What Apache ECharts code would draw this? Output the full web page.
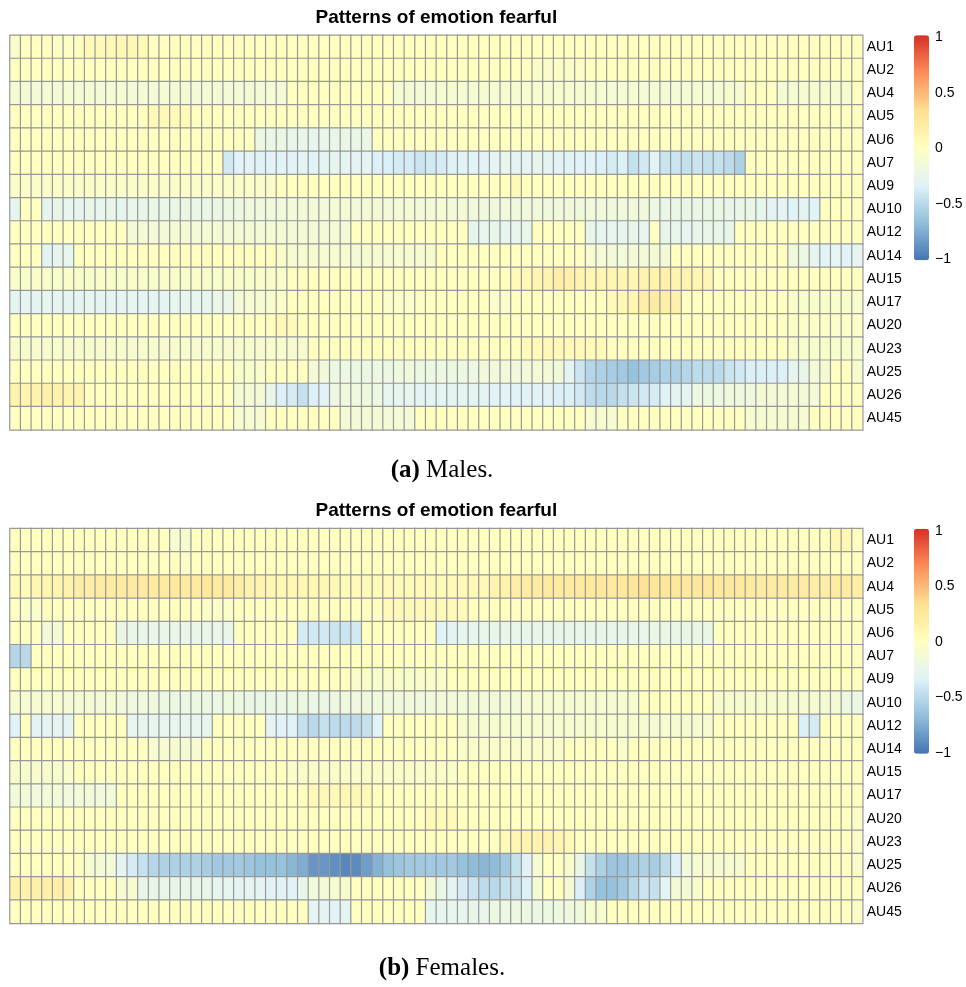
<!DOCTYPE html>
<html>
<head>
<meta charset="utf-8">
<script src="https://cdn.jsdelivr.net/npm/echarts@6/dist/echarts.min.js"></script>
<style>
  html, body { margin: 0; padding: 0; background: #fff; }
  #main { width: 966px; height: 987px; }
</style>
</head>
<body>
<div id="main"></div>
<script>
// action units, top to bottom
const auLabels = ['AU1', 'AU2', 'AU4', 'AU5', 'AU6', 'AU7', 'AU9', 'AU10', 'AU12', 'AU14', 'AU15', 'AU17', 'AU20', 'AU23', 'AU25', 'AU26', 'AU45'];
const legendTicks = [-1, -0.5, 0, 0.5, 1];
const paletteColors = ['#4575B4', '#91BFDB', '#E0F3F8', '#FFFFBF', '#FEE090', '#FC8D59', '#D73027'];

// (a) males, one row per AU, 80 frames each
const malesValues = [
  [-0.06,0,0,0,-0.03,-0.03,0,0.05,0.06,0.06, 0.07,0.07,0.05,0,0,0,0,0,0,0,
   0,0,0,0,0,0,0,0,0,0, 0,0,0,0,0,0,0,0,0,0,
   0,0,0,0,0,0,0,0,0,0, 0,0,0,0,0,0,0,0,0,0,
   0,0,0,0,0,0,0,0,0,0, 0,0,0,0,0,0,0,0,0,0],
  [0,0,0,0,0,0,0,0,0,0, 0,0,0,0,0,0,0,0,0,0,
   0,0,0,0,0,0,0,0,0,0, 0,0,0,0,0,0,0,0,0,0,
   0,0,0,0,0,0,0,0,0,-0.05, -0.05,-0.03,-0.05,-0.03,0,0,0,0,0,0,
   0,0,0,0,0,0,0,0,0,0, 0,0,0,0,0,0,0,0,0,0],
  [-0.11,-0.13,-0.13,-0.11,-0.13,-0.11,-0.13,-0.11,-0.13,-0.13, -0.11,-0.13,-0.13,-0.13,-0.11,-0.13,-0.13,-0.13,-0.13,-0.13,
   -0.13,-0.13,-0.13,-0.13,-0.11,-0.13,0,0,0,0, 0,0,0,0,0,0,-0.11,-0.13,-0.13,-0.11,
   -0.11,-0.09,-0.11,-0.11,-0.09,-0.11,-0.09,-0.09,-0.09,-0.09, -0.09,-0.08,-0.08,-0.09,-0.09,-0.11,-0.11,-0.11,-0.11,-0.11,
   -0.11,-0.13,-0.11,-0.11,-0.11,-0.11,-0.11,-0.09,-0.09,0, 0,0,-0.11,-0.11,-0.09,-0.09,-0.09,-0.09,-0.09,0],
  [0,0,0,0,0,0,0,0,0,0, 0,0,0,0.06,0.06,0.05,0.05,0,0,0,
   0,0,0,0,0,0,0,0,0,0, 0,0,0,0,0,0,0,0,0,0,
   0,0,0,0,0,0,0,0,0,0, 0,0,0,0,0,0,0,0,0,0,
   0,0,0,0,0,0,0,0,0,0, 0,0,0,0,0,0,0,0,0,0],
  [0,0,0,0,0,0,0,0,0,0, 0,0,0,0,0,0,0,0,0,0,
   0,0,0,-0.2,-0.22,-0.22,-0.25,-0.24,-0.27,-0.24, -0.24,-0.22,-0.22,-0.22,0,0,0,0,0,0,
   0,0,0,0,0,0,0,0,0,0, 0,0,0,0,0,0,0,0,0,0,
   0,0,0,0,0,0,0,0,0,0, 0,0,0,0,0,0,0,0,0,0],
  [0,0,0,0,0,0,0,0,0,0, 0,0,0,0,0,0,0,0,0,0,
   -0.4,-0.32,-0.32,-0.34,-0.32,-0.32,-0.32,-0.3,-0.32,-0.3, -0.27,-0.3,-0.3,-0.3,-0.35,-0.35,-0.38,-0.38,-0.42,-0.4,
   -0.38,-0.34,-0.32,-0.32,-0.32,-0.3,-0.27,-0.3,-0.3,-0.27, -0.3,-0.32,-0.32,-0.32,-0.32,-0.35,-0.38,-0.35,-0.45,-0.4,
   -0.32,-0.42,-0.42,-0.45,-0.42,-0.45,-0.45,-0.48,-0.55,0, 0,0,0,0,0,0,0,0,0,0],
  [-0.05,-0.05,-0.05,-0.05,-0.05,-0.05,-0.05,-0.05,-0.05,-0.05, -0.05,-0.05,-0.05,-0.05,-0.05,-0.05,-0.05,-0.05,-0.05,-0.05,
   -0.05,-0.05,-0.05,-0.05,-0.05,0,0,0,0,0, 0,0,0,0,0,0,0,0,0,0,
   0,0,0,0,0,0,0,0.06,0,0, 0,0,0,0,0,0,0,0,0,0,
   0,0,0,0,0,0,0,0,0,0, 0,0,0,0,0,0,0,0,0,0],
  [-0.27,0,0,-0.27,-0.25,-0.27,-0.27,-0.25,-0.27,-0.25, -0.27,-0.25,-0.25,-0.22,-0.22,-0.22,-0.22,-0.22,-0.22,-0.22,
   -0.2,-0.2,-0.17,-0.17,-0.17,-0.17,-0.14,-0.14,-0.14,-0.14, -0.11,-0.13,-0.13,-0.13,-0.13,-0.13,-0.13,-0.11,-0.13,-0.13,
   -0.11,-0.13,-0.13,-0.16,-0.16,-0.16,-0.16,-0.16,-0.16,-0.16, -0.16,-0.16,-0.16,-0.16,-0.16,-0.16,-0.16,-0.16,-0.16,-0.16,
   -0.2,-0.22,-0.22,-0.22,-0.22,-0.22,-0.22,-0.24,-0.24,-0.24, -0.26,-0.3,-0.3,-0.33,-0.3,-0.33,0,0,0,0],
  [0,0,0,0,0,0,0,0,0,0, 0,-0.13,-0.13,-0.13,-0.13,-0.13,-0.13,-0.13,-0.13,-0.13,
   -0.13,-0.13,-0.13,-0.13,-0.13,-0.13,-0.13,-0.13,-0.13,-0.13, -0.13,-0.13,0,0,0,0,0,0,0,0,
   0,0,0,-0.27,-0.27,-0.25,-0.27,-0.27,-0.25,0, 0,0,0,0,-0.25,-0.27,-0.27,-0.27,-0.25,-0.27,
   0,-0.25,-0.25,-0.27,-0.25,-0.25,-0.25,-0.25,0,0, 0,0,0,0,0,0,0,0,0,0],
  [0,0,0,-0.3,-0.27,-0.27,0,0,0,0, 0,0,0,0,0,0,0,0,0,0,
   0,0,0,0,0,-0.06,-0.08,-0.1,-0.1,-0.1, -0.1,-0.1,-0.13,-0.1,-0.1,-0.1,-0.1,-0.1,-0.1,-0.1,
   0,0,0,0,0,0,0,0,0,0, 0,0,0,0,-0.1,-0.13,-0.13,-0.15,-0.13,-0.13,
   -0.13,-0.13,0,0,0,0,0,0,0,0, 0,0,0,-0.16,-0.2,-0.28,-0.32,-0.28,-0.32,-0.28],
  [-0.06,-0.06,-0.06,-0.06,-0.06,-0.06,-0.06,-0.06,-0.06,-0.06, -0.06,-0.06,-0.06,-0.06,-0.06,-0.06,-0.06,-0.06,-0.06,-0.06,
   -0.06,-0.06,-0.06,-0.06,-0.06,-0.06,0,0,0,0, 0,0,0,0,0,0,0,0,0,0,
   0,0,0,0,0,0,0,0.05,0.06,0.1, 0.12,0.18,0.15,0.13,0.1,0.1,0.1,0.1,0.1,0.12,
   0.14,0.15,0.12,0.12,0.1,0.1,0,0,0,0, 0,0,0,0,0,0,0,0,0,0],
  [-0.29,-0.29,-0.29,-0.27,-0.29,-0.29,-0.29,-0.27,-0.29,-0.29, -0.29,-0.27,-0.29,-0.29,-0.29,-0.27,-0.27,-0.27,-0.27,-0.24,
   -0.24,-0.13,-0.1,-0.1,-0.08,-0.06,0,0,0,0, 0,0,0,0,0,-0.04,-0.04,-0.04,-0.03,0,
   0,0,0,0,0,-0.06,-0.06,0,0,0, 0,0,0,0,0,0,0.05,0.08,0.1,0.18,
   0.2,0.16,0.15,0,0,0,0,0,0,0, 0,0,0,-0.06,-0.06,-0.06,-0.06,-0.06,-0.06,-0.06],
  [0,0,0,0,0,0,0,0,0,0, 0,0,0,0,0,0,0,0,0,0,
   0,0,0,0,0,0.06,0.05,0,0,0, 0,0,0,0,0,0,0,0,0,0,
   0,0,0,0,0,0,0,0,0,0, 0,0,0,0,0,0,0,0,0,0,
   0,0,0,0,0,0,0,0,0,0, 0,0,0,-0.04,-0.04,-0.04,-0.04,-0.04,-0.04,-0.04],
  [-0.08,-0.08,-0.08,-0.08,-0.08,-0.08,-0.08,-0.08,-0.08,-0.08, -0.08,-0.08,-0.08,-0.08,-0.08,-0.08,-0.08,-0.08,-0.08,-0.08,
   -0.08,-0.08,-0.08,-0.08,-0.08,-0.08,-0.08,-0.08,0,0, 0,0,0,0,0,0,0,0,0,0,
   0,0,0,0,0,0,0,0,0.05,0.05, 0.06,0.06,0.05,0.05,0.05,0.05,0,0,0,0,
   0,0,0,0,0,0,0,0,0,0, 0,0,0,-0.06,-0.06,-0.06,-0.06,-0.06,-0.06,-0.06],
  [0,0,0,0,0,0,0,0,0,0, 0,0,0,0,0,0,0,0,0,0,
   0,-0.06,-0.06,-0.06,0,0,0,0,-0.13,-0.16, -0.2,-0.2,-0.2,-0.2,-0.2,-0.2,-0.18,-0.18,-0.2,-0.2,
   -0.2,-0.2,-0.2,-0.2,-0.16,-0.16,-0.16,-0.16,-0.16,-0.13, -0.13,-0.16,-0.3,-0.42,-0.52,-0.55,-0.58,-0.6,-0.65,-0.6,
   -0.58,-0.55,-0.55,-0.52,-0.48,-0.48,-0.48,-0.42,-0.4,-0.35, -0.35,-0.35,-0.35,-0.27,-0.25,-0.13,-0.12,0,0,-0.1],
  [0.12,0.12,0.14,0.14,0.14,0.12,0.12,0,0,0, 0,0,0,0,0,0,0,0,0,0,
   0,-0.12,-0.13,-0.13,-0.25,-0.35,-0.38,-0.45,-0.35,-0.32, -0.2,-0.18,-0.18,-0.18,-0.2,-0.27,-0.27,-0.27,-0.3,-0.3,
   -0.3,-0.3,-0.3,-0.3,-0.3,-0.32,-0.32,-0.32,-0.32,-0.32, -0.32,-0.35,-0.35,-0.4,-0.48,-0.5,-0.5,-0.45,-0.42,-0.4,
   -0.38,-0.32,-0.3,-0.3,-0.2,-0.2,-0.2,-0.18,-0.18,-0.18, -0.13,-0.13,-0.13,-0.13,-0.13,-0.13,0,0,0,0],
  [0,0,0,0,0,0,0,0,0,0, 0,0,0,0,0,0,0,0,0,0,
   0,-0.1,-0.1,-0.1,0,0,0,0,0,0, 0,-0.13,-0.13,-0.13,-0.13,-0.13,-0.13,-0.13,0,0,
   0,0,0,0,0,0,0,0,0,0, 0,0,0,0,-0.09,-0.09,-0.09,0,0,0,
   0,0,0,0,0,0,0,0,0,-0.1, -0.1,-0.1,-0.1,-0.1,-0.1,0,0,0,0,0]
];

// (b) females
const femalesValues = [
  [0,0,0,0,0,0,0,0,0,0, 0,0,0,0,0,-0.09,-0.09,0,0,0,
   0,0,0,0,0,0,0,0,0,0, 0,0,0,0,0,0,0,0,0,0,
   0,0,0,0,0,0,0,0,0,0, 0,0,0,0,0,0,0,0,0,0,
   0,0,0,0,0,0,0,0,0,0, 0,0,0,0,0,0,0,0.07,0.07,0],
  [0,0,0,0,0,0,0,0,0,0, 0,0,0,0,0,0,-0.05,0,0,0,
   0,0,0,0,0,0,0,0,0,0, 0,0,0,0,0,0,0,0,0,0,
   0,0,0,0,0,0,0,0,0,0, 0,0,0,0,0,0,0,0,0,0,
   0,0,0,0,0,0,0,0,0,0, 0,0,0,0,0,0,0,0,0,0],
  [0.05,0.05,0.1,0.1,0.12,0.14,0.18,0.18,0.2,0.2, 0.2,0.22,0.22,0.22,0.22,0.24,0.22,0.24,0.24,0.22,
   0.22,0.18,0.12,0.12,0.1,0.08,0.08,0.08,0.08,0.08, 0.06,0.05,0.05,0.05,0.05,0.05,0.05,0.05,0.05,0.05,
   0.05,0.05,0.05,0.06,0.06,0.12,0.14,0.18,0.2,0.2, 0.22,0.22,0.22,0.22,0.24,0.24,0.24,0.24,0.26,0.3,
   0.26,0.26,0.25,0.25,0.25,0.25,0.24,0.24,0.24,0.22, 0.2,0.2,0.2,0.2,0.2,0.18,0.18,0.2,0.2,0.18],
  [0,-0.04,-0.04,0,0,0,0,0,0,0, 0,0,0,0,0,0,0,0,-0.04,-0.04,
   -0.04,0,0,0,0,0,0,0,0,0, 0,0,0,0,0,0.05,0.06,0.06,0.06,0.06,
   0.06,0.05,0.04,0,0,0,0,0,0,0, 0,0,0,0,0,0,0,0,0,0,
   0,0,0,0,0,0,0,0,0,0, 0,0,0,0,0,0,0,0,0,0],
  [0,0,0,-0.13,-0.13,0,0,0,0,0, -0.22,-0.24,-0.24,-0.24,-0.24,-0.24,-0.24,-0.24,-0.24,-0.24,
   -0.24,0,0,0,0,0,0,-0.38,-0.4,-0.4, -0.42,-0.42,-0.4,0,0,0,0,0,0,0,
   -0.33,-0.3,-0.27,-0.27,-0.25,-0.25,-0.25,-0.25,-0.25,-0.25, -0.25,-0.25,-0.25,-0.25,-0.25,-0.25,-0.25,-0.25,-0.25,-0.25,
   -0.22,-0.22,-0.22,-0.22,-0.22,-0.22,0,0,0,0, 0,0,0,0,0,0,0,0,0,0],
  [-0.52,-0.5,0,0,0,0,0,0,0,0, 0,0,0,0,0,0,0,0,0,0,
   0,0,0,0,0,0,0,0,0,0, 0,0,0,0,0,0,0,0,0,0,
   0,0,0,0,0,0,0,0,0,0, 0,0,0,0,0,0,0,0,0,0,
   0,0,0,0,0,0,0,0,0,0, 0,0,0,0,0,0,0,0,0,0],
  [0,0,0,0,0,0,0,0,0,0, 0,0,0,0,0,0,0,0,0,0,
   0,0,0,0,0,0,0,0,0,0, 0,0,-0.06,-0.06,-0.06,-0.06,-0.06,-0.06,-0.06,-0.06,
   -0.06,0,0,0,0,0,0,0,0,0, 0,0,0,0,0,0,0,0,0,0,
   0,0,0,0,0,0,0,0,0,0, 0,0,0,0,0,0,0,0,0,0],
  [-0.1,-0.1,-0.1,-0.1,-0.1,-0.12,-0.12,-0.12,-0.12,-0.12, -0.16,-0.18,-0.18,-0.18,-0.2,-0.2,-0.2,-0.2,-0.2,-0.2,
   -0.18,-0.2,-0.22,-0.22,-0.22,-0.22,-0.2,-0.2,-0.22,-0.22, -0.2,-0.18,-0.18,-0.18,-0.18,-0.16,-0.16,-0.16,-0.16,-0.16,
   -0.16,-0.14,-0.14,-0.14,-0.14,-0.14,-0.14,-0.14,-0.1,-0.1, -0.1,-0.1,-0.1,-0.1,-0.1,-0.1,-0.1,-0.1,-0.1,0,
   0,0,0,0,0,0,-0.08,-0.08,-0.08,-0.08, -0.08,-0.08,-0.08,-0.1,-0.1,-0.1,-0.12,-0.12,-0.2,-0.2],
  [-0.33,0,-0.3,-0.3,-0.3,-0.3,0,0,0,0, 0,-0.27,-0.27,-0.27,-0.27,-0.27,-0.27,-0.27,-0.27,0,
   0,0,0,0,-0.3,-0.33,-0.33,-0.45,-0.5,-0.45, -0.48,-0.48,-0.48,-0.45,-0.33,0,0,0,0,0,
   0,0,-0.09,-0.09,-0.09,-0.09,-0.09,-0.09,-0.09,-0.09, -0.09,-0.09,-0.09,-0.09,-0.09,-0.09,-0.09,-0.09,-0.09,-0.09,
   -0.1,-0.1,-0.1,-0.1,-0.1,-0.1,0,0,0,0, 0,0,0,0,-0.35,-0.38,0,0,0,0],
  [0,0,0,0,0,0,0,0,0,0, 0,0,0,-0.1,-0.1,-0.1,-0.12,-0.1,0,0,
   0,0,0,0,0,0,0,0,0,0, 0,0,0,0,0,0,0,0,0,0,
   0,0,-0.05,-0.05,-0.05,-0.05,-0.05,-0.06,-0.06,-0.05, -0.05,-0.05,0,0,0,0,0,-0.06,0,0,
   0,0,0,0,0,0,0,0,0,0, 0,0,0,0,0,0,0,0,0,0],
  [-0.08,-0.08,-0.08,-0.08,-0.08,-0.06,0,0,0,0, 0,0,0,0,0,0,0,0,0,0,
   0,0,0,0,0,0,-0.05,-0.05,-0.05,-0.05, -0.05,-0.05,-0.05,-0.05,-0.05,-0.05,-0.05,-0.05,-0.05,-0.05,
   -0.05,-0.05,0,0,0,0,0,0,0,0, 0,0,0,0,0,0,0,0,0,0,
   0,0,0,0,0,0,0,0,0,0, 0,0,0,0,0,0,0,0,0,0],
  [-0.15,-0.15,-0.15,-0.15,-0.15,-0.15,-0.15,-0.15,-0.15,-0.15, 0,0,0,0,0,0,0,0,0,0,
   0,0,0,0,0,0,0,0,0.06,0.06, 0.06,0.07,0.07,0.06,0,0,0,0,0,0,
   0,0,0,0,0,0,0,0,0,0, 0,0,0,0,0,0,0,0,0,0,
   0,0,0,0,0,0,0,0,0,0, 0,0,0,0,0,0,0,0,0,0],
  [0,0,0,0,0,0,0,0,0,0, 0,0,0,0,0,0,0,0,0,0,
   0,0,0,0,0,0,0,0,0,0, 0,0,0,0,0,0,0,0,0,0.05,
   0.05,0.05,0,0,0,0,0,0,0,0, 0,0,0,0,0,0,0,0,0,0,
   0,0,0,0,0,0,0,0,0,0, 0,0,0,0,0,0,0,0,0,-0.05],
  [0,0,0,0,0,0,0,0,0,0, 0,0,0,0,0,0,0,0,0,0,
   0,0,0,0,0,0,0,0,0,0, 0,0,0,0,0,0,0,0,0,0,
   0,0,0,0,0,0,0.05,0.1,0.12,0.12, 0.12,0.1,0.05,0,0,0,0,0,0,0,
   0,0,0,0,0,0,0,0,0,0, 0,0,0,0,0,0,0,0,0,-0.05],
  [0,0,0,0,0,0,0,-0.1,-0.12,-0.15, -0.3,-0.38,-0.45,-0.52,-0.55,-0.55,-0.55,-0.55,-0.58,-0.6,
   -0.6,-0.6,-0.62,-0.65,-0.65,-0.65,-0.7,-0.75,-0.85,-0.85, -0.88,-0.92,-0.9,-0.82,-0.72,-0.65,-0.62,-0.6,-0.6,-0.6,
   -0.6,-0.6,-0.65,-0.68,-0.7,-0.68,-0.6,-0.45,-0.32,-0.1, 0,0,-0.08,-0.22,-0.45,-0.55,-0.62,-0.62,-0.58,-0.55,
   -0.58,-0.48,-0.35,-0.15,-0.1,-0.1,-0.1,-0.1,-0.1,0, 0,0,0,0,0,0,0,0,0,-0.06],
  [0.14,0.14,0.16,0.16,0.16,0.14,0,0,0,0, -0.1,-0.1,-0.25,-0.25,-0.25,-0.25,-0.25,-0.25,-0.25,-0.27,
   -0.27,-0.3,-0.3,-0.3,-0.32,-0.32,-0.32,-0.25,-0.15,-0.12, -0.1,-0.08,0,0,0,0,0,0,0,-0.12,
   -0.22,-0.3,-0.38,-0.42,-0.48,-0.5,-0.45,-0.42,-0.35,-0.12, 0,0,-0.12,-0.35,-0.55,-0.65,-0.65,-0.6,-0.5,-0.42,
   -0.45,-0.3,-0.12,-0.12,-0.08,0,0,0,0,0, 0,0,0,0,0,0,0,0,0,0],
  [0,0,0,0,0,0,0,0,0,0, 0,0,0,0,0,0,0,0,0,0,
   0,0,0,0,0,0,0,0,-0.3,-0.3, -0.32,-0.3,0,0,0,0,0,0,0,-0.27,
   -0.27,-0.27,-0.27,-0.25,-0.25,-0.2,-0.2,-0.2,-0.2,-0.2, -0.2,-0.18,-0.18,-0.16,-0.1,-0.1,0,0,0,0,
   0,0,0,0,0,0,0,0,0,0, 0,0,0,0,0,0,0,0,0,-0.05]
];

const frames = malesValues[0].map((v, i) => String(i + 1));

function toCells(rows) {
  const out = [];
  rows.forEach((row, r) => {
    row.forEach((v, c) => out.push([c, r, v]));
  });
  return out;
}

const panels = [
  {values: malesValues, top: 35.3, caption: '{b|(a)} Males.', captionTop: 458},
  {values: femalesValues, top: 528.7, caption: '{b|(b)} Females.', captionTop: 956}
];
const heatLeft = 10, heatWidth = 852.7, heatHeight = 394.6;
const barLeft = 914, barWidth = 15, barHeight = 225;

const chart = echarts.init(document.getElementById('main'));

const option = {
  animation: false,
  backgroundColor: '#fff',
  title: [],
  grid: [],
  xAxis: [],
  yAxis: [],
  visualMap: [],
  series: []
};

panels.forEach((p, k) => {
  option.title.push({
    text: 'Patterns of emotion fearful',
    left: heatLeft + heatWidth / 2,
    top: p.top - 27,
    textAlign: 'center',
    padding: 0,
    textStyle: {fontFamily: 'Liberation Sans', fontSize: 19, fontWeight: 'bold', color: '#000'}
  });
  option.title.push({
    text: p.caption,
    left: 442,
    top: p.captionTop,
    textAlign: 'center',
    padding: 0,
    textStyle: {
      fontFamily: 'Liberation Serif', fontSize: 25, color: '#000', fontWeight: 'normal',
      rich: {b: {fontFamily: 'Liberation Serif', fontSize: 25, fontWeight: 'bold', color: '#000'}}
    }
  });

  // heatmap grid
  option.grid.push({left: heatLeft, top: p.top, width: heatWidth, height: heatHeight});
  option.xAxis.push({type: 'category', gridIndex: 2 * k, data: frames, show: false});
  option.yAxis.push({
    type: 'category', gridIndex: 2 * k, data: auLabels, inverse: true, position: 'right',
    axisLine: {show: false}, axisTick: {show: false}, splitLine: {show: false},
    axisLabel: {fontFamily: 'Liberation Sans', fontSize: 14, color: '#000', margin: 4}
  });

  // colour key ticks
  option.grid.push({left: barLeft, top: p.top + 2, width: barWidth, height: barHeight - 3});
  option.xAxis.push({type: 'value', gridIndex: 2 * k + 1, show: false, min: 0, max: 1});
  option.yAxis.push({
    type: 'value', gridIndex: 2 * k + 1, min: legendTicks[0], max: legendTicks[legendTicks.length - 1], interval: 0.5,
    position: 'right',
    axisLine: {show: false}, axisTick: {show: false}, splitLine: {show: false},
    axisLabel: {
      fontFamily: 'Liberation Sans', fontSize: 14, color: '#000', margin: 6,
      formatter: v => (v < 0 ? '\u2212' + Math.abs(v) : String(v))
    }
  });

  option.visualMap.push({
    type: 'continuous',
    seriesIndex: k,
    min: -1, max: 1,
    orient: 'vertical',
    left: barLeft, top: p.top,
    itemWidth: barWidth, itemHeight: barHeight,
    padding: 0,
    calculable: false,
    hoverLink: false,
    inRange: {color: paletteColors}
  });

  option.series.push({
    type: 'heatmap',
    xAxisIndex: 2 * k,
    yAxisIndex: 2 * k,
    data: toCells(p.values),
    itemStyle: {borderColor: '#999999', borderWidth: 1.2},
    emphasis: {disabled: true},
    silent: true
  });
});

chart.setOption(option);
</script>
</body>
</html>
